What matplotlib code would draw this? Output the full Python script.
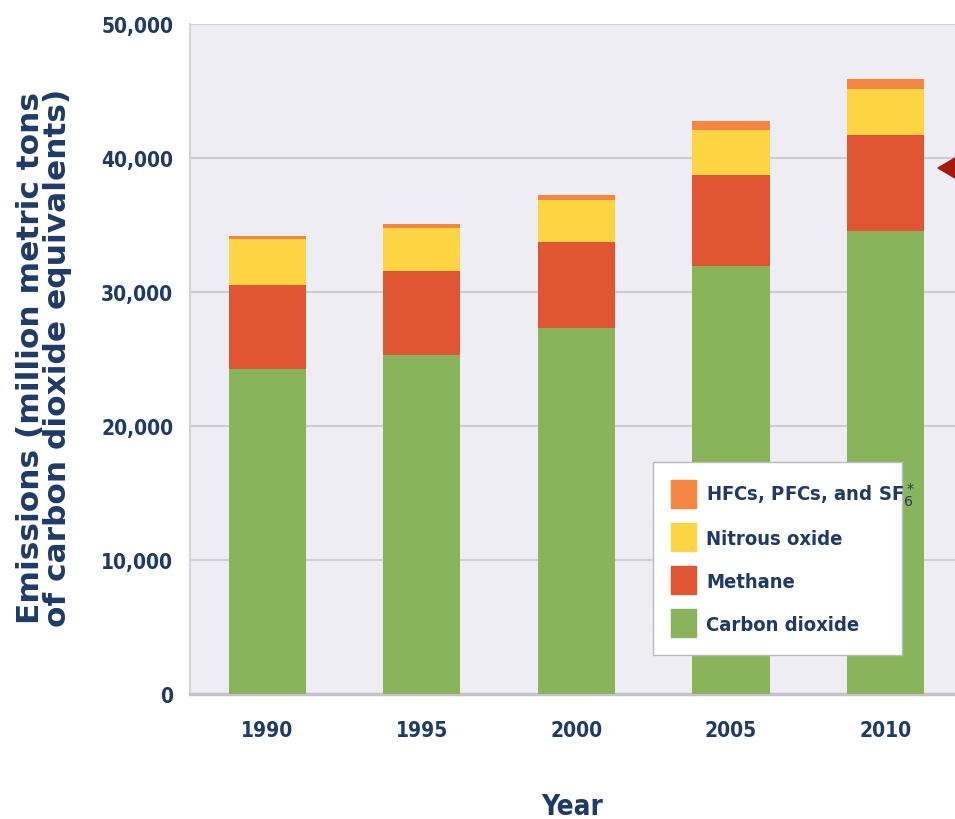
import matplotlib
matplotlib.use("Agg")
import matplotlib.pyplot as plt
from matplotlib.patches import Polygon, Patch
import numpy as np

years = ["1990", "1995", "2000", "2005", "2010"]
co2 = [24250, 25290, 27350, 31950, 34540]
methane = [6250, 6290, 6370, 6770, 7160]
n2o = [3430, 3180, 3130, 3380, 3430]
hfc = [240, 300, 375, 670, 800]
yticks = [0, 10000, 20000, 30000, 40000, 50000]
ytick_labels = ["0", "10,000", "20,000", "30,000", "40,000", "50,000"]
legend_labels = ["HFCs, PFCs, and SF$_6^*$", "Nitrous oxide", "Methane", "Carbon dioxide"]

navy = "#1e3a66"
c_co2 = "#8ab45c"
c_ch4 = "#e05532"
c_n2o = "#fdd544"
c_hfc = "#f48642"
bg = "#efedf4"

fig = plt.figure(figsize=(9.55, 8.2), dpi=100)
ax = fig.add_axes([190/955, 125/820, 1 - 190/955, 670/820])
ax.set_facecolor(bg)

x = np.arange(len(years))
w = 0.5
b = np.zeros(len(years))
for vals, col in [(co2, c_co2), (methane, c_ch4), (n2o, c_n2o), (hfc, c_hfc)]:
    ax.bar(x, vals, w, bottom=b, color=col, zorder=3, linewidth=0)
    b = b + np.array(vals)

tick_kw = dict(fontsize=15, fontweight="bold", color=navy, fontstretch="condensed")
ax.set_xlim(-0.5, 4.45)
ax.set_ylim(0, 50000)
ax.set_yticks(yticks)
ax.set_yticklabels(ytick_labels, **tick_kw)
ax.set_xticks(x)
ax.set_xticklabels(years, **tick_kw)
ax.tick_params(axis="y", length=0, pad=12)
ax.tick_params(axis="x", length=0, pad=19)
ax.grid(axis="y", color="#cfcdd3", linewidth=1.5, zorder=1)
for s in ["top", "right"]:
    ax.spines[s].set_visible(False)
ax.spines["left"].set_color("#d6d4da")
ax.spines["left"].set_linewidth(1.5)
ax.spines["bottom"].set_color("#c4c2c8")
ax.spines["bottom"].set_linewidth(2.5)

ax.set_xlabel("Year", fontsize=20, fontweight="bold", color=navy, fontstretch="condensed", labelpad=37)
fig.text(44/955, 1 - 358/820, "Emissions (million metric tons\nof carbon dioxide equivalents)",
         rotation=90, ha="center", va="center", fontsize=22.5, fontweight="bold",
         color=navy, linespacing=0.95)

handles = [Patch(color=c) for c in [c_hfc, c_n2o, c_ch4, c_co2]]
leg = ax.legend(handles, legend_labels, loc="upper left",
                bbox_to_anchor=((653-190)/765, (695-463)/670, (902-653)/765, 0.0),
                mode="expand", frameon=True, fancybox=False, framealpha=1,
                edgecolor="#bbbbbb", handlelength=1.25, handleheight=1.75,
                labelspacing=0.75, borderpad=0.9, handletextpad=0.5, borderaxespad=0,
                prop={"weight": "bold", "size": 14.5, "stretch": "condensed"})
for t in leg.get_texts():
    t.set_color(navy)
leg.set_zorder(5)

arrow = Polygon([[938/955, 1 - 169/820], [955/955, 1 - 159/820], [955/955, 1 - 179/820]],
                closed=True, transform=fig.transFigure, color="#a11a0c", zorder=10)
fig.patches.append(arrow)

fig.savefig("out.png", dpi=100)
